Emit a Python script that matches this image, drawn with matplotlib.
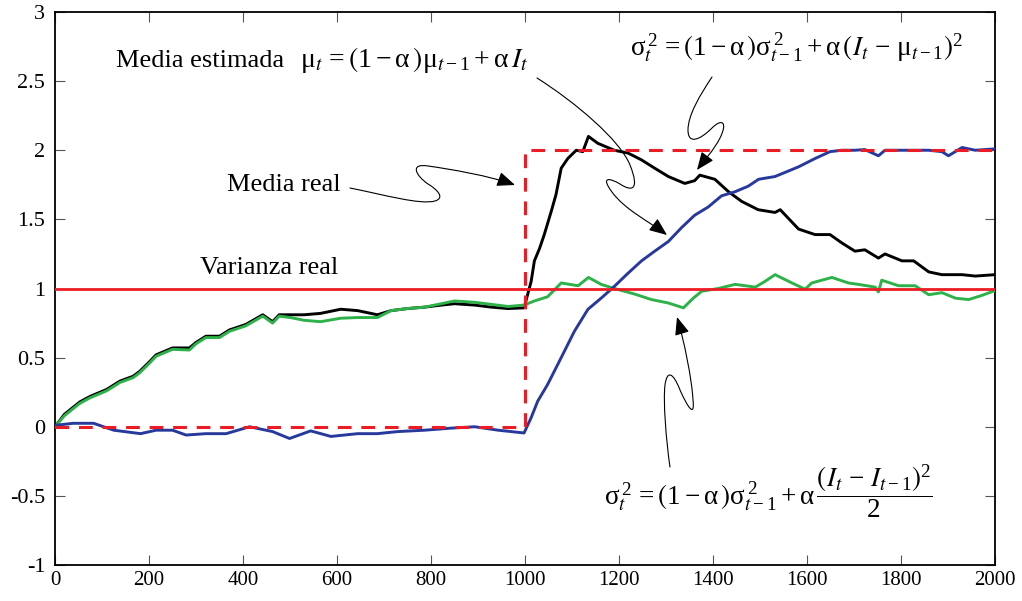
import matplotlib
matplotlib.use("Agg")
import matplotlib.pyplot as plt
from matplotlib.path import Path
from matplotlib.patches import FancyArrowPatch

# ---------------- data ----------------
x_ticks = [0, 200, 400, 600, 800, 1000, 1200, 1400, 1600, 1800, 2000]
x_tick_labels = ["0", "200", "400", "600", "800", "1000", "1200", "1400", "1600", "1800", "2000"]
y_ticks = [-1, -0.5, 0, 0.5, 1, 1.5, 2, 2.5, 3]
y_tick_labels = ["-1", "-0.5", "0", "0.5", "1", "1.5", "2", "2.5", "3"]

# real mean (step) and real variance
real_mean_x = [0, 1000, 1000, 2000]
real_mean_y = [0, 0, 2, 2]
real_var_x = [0, 2000]
real_var_y = [1, 1]

# estimated mean (black)
mean_x = [0, 20, 53, 75, 110, 138, 166, 180, 201, 215, 250, 286, 300, 321, 350, 371,
          406, 442, 463, 477, 501, 530, 565, 608, 644, 686, 715, 750, 786, 822, 850,
          893, 929, 964, 998, 1013, 1020, 1031, 1041, 1056, 1066, 1077, 1091, 1109,
          1123, 1135, 1155, 1190, 1219, 1248, 1276, 1305, 1340, 1361, 1372, 1404, 1433,
          1461, 1496, 1532, 1543, 1582, 1617, 1649, 1674, 1702, 1723, 1752, 1766, 1802,
          1827, 1859, 1887, 1930, 1958, 2000]
mean_y = [0.00, 0.09, 0.18, 0.22, 0.27, 0.33, 0.365, 0.40, 0.47, 0.52, 0.57, 0.57, 0.61,
          0.655, 0.655, 0.70, 0.74, 0.81, 0.76, 0.81, 0.81, 0.81, 0.82, 0.85, 0.84, 0.81,
          0.84, 0.855, 0.865, 0.88, 0.89, 0.88, 0.865, 0.855, 0.86, 1.05, 1.20, 1.29,
          1.39, 1.56, 1.68, 1.87, 1.94, 2.00, 1.99, 2.10, 2.05, 2.00, 1.98, 1.93, 1.87,
          1.81, 1.76, 1.78, 1.82, 1.79, 1.70, 1.63, 1.57, 1.55, 1.57, 1.43, 1.39, 1.39,
          1.33, 1.27, 1.28, 1.22, 1.25, 1.20, 1.20, 1.12, 1.10, 1.10, 1.09, 1.10]

# variance estimate from successive differences (green)
var_diff_x = [0, 20, 53, 75, 110, 138, 166, 180, 201, 215, 250, 286, 300, 321, 350, 371,
              406, 442, 463, 477, 501, 530, 565, 608, 644, 686, 715, 750, 786, 822, 850,
              893, 929, 964, 998, 1020, 1048, 1077, 1113, 1135, 1162, 1190, 1233, 1269,
              1305, 1337, 1358, 1376, 1411, 1447, 1490, 1510, 1532, 1568, 1596, 1610,
              1653, 1688, 1709, 1745, 1752, 1759, 1795, 1830, 1859, 1887, 1916, 1944,
              1972, 2000]
var_diff_y = [0.00, 0.08, 0.17, 0.21, 0.26, 0.32, 0.355, 0.39, 0.46, 0.51, 0.56, 0.555,
              0.60, 0.645, 0.645, 0.69, 0.73, 0.80, 0.75, 0.80, 0.79, 0.77, 0.76, 0.785,
              0.79, 0.79, 0.84, 0.855, 0.865, 0.89, 0.91, 0.90, 0.885, 0.87, 0.88, 0.91,
              0.94, 1.04, 1.02, 1.08, 1.03, 1.00, 0.96, 0.92, 0.895, 0.86, 0.93, 0.98,
              1.00, 1.03, 1.01, 1.05, 1.10, 1.04, 0.995, 1.04, 1.08, 1.04, 1.03, 1.01,
              0.975, 1.06, 1.02, 1.02, 0.955, 0.97, 0.93, 0.92, 0.95, 0.985]

# variance estimate around the running mean (blue)
var_mean_x = [0, 39, 82, 125, 182, 215, 250, 279, 321, 364, 414, 463, 499, 544, 587, 644,
              686, 729, 786, 843, 893, 943, 998, 1013, 1027, 1048, 1077, 1105, 1134, 1162,
              1190, 1219, 1248, 1276, 1305, 1333, 1361, 1390, 1418, 1447, 1475, 1497,
              1532, 1582, 1617, 1649, 1674, 1702, 1723, 1752, 1766, 1802, 1859, 1887,
              1901, 1930, 1958, 2000]
var_mean_y = [0.01, 0.025, 0.025, -0.025, -0.05, -0.025, -0.025, -0.06, -0.05, -0.05,
              0.0, -0.035, -0.085, -0.03, -0.07, -0.05, -0.05, -0.035, -0.025, -0.01,
              0.0, -0.025, -0.045, 0.065, 0.185, 0.305, 0.50, 0.69, 0.85, 0.93, 1.015,
              1.11, 1.20, 1.27, 1.34, 1.44, 1.53, 1.59, 1.67, 1.70, 1.74, 1.79, 1.81,
              1.88, 1.94, 1.99, 2.00, 2.00, 2.005, 1.96, 2.00, 2.00, 2.00, 1.99, 1.96,
              2.02, 2.00, 2.01]

label_mean_est = "Media estimada"
label_mean_real = "Media real"
label_var_real = "Varianza real"
eq_mean = r"$\mu_{\mathit{t}}\,=\left(1-\alpha\,\right)\mu_{\mathit{t}-1}+\alpha\,\mathit{I}_{\mathit{t}}$"
eq_var_mean = (r"$\sigma^{\,2}_{\mathit{t}}\,=\left(1-\alpha\,\right)\sigma^{\,2}_{\mathit{t}-1}"
               r"+\alpha\,\left(\mathit{I}_{\mathit{t}}\,-\,\mu_{\mathit{t}-1}\right)^{2}$")
eq_var_diff = (r"$\sigma^{\,2}_{\mathit{t}}\,=\left(1-\alpha\,\right)\sigma^{\,2}_{\mathit{t}-1}"
               r"+\alpha\,\dfrac{\left(\mathit{I}_{\mathit{t}}\,-\,\mathit{I}_{\mathit{t}-1}\right)^{2}}{2}$")

# ---------------- style ----------------
plt.rcParams["font.family"] = ["Liberation Serif", "DejaVu Serif"]
plt.rcParams["mathtext.fontset"] = "stix"
plt.rcParams["mathtext.default"] = "regular"
plt.rcParams["axes.unicode_minus"] = False

RED = "#EC1C24"
GREEN = "#2DB24A"
BLUE = "#27399C"
W, H = 1022, 601

fig = plt.figure(figsize=(W / 100, H / 100), dpi=100)
ax = fig.add_axes([55 / W, 36 / H, 940 / W, 553 / H])


def fx(px):
    return px / W


def fy(py):
    return 1 - py / H


ax.plot(mean_x, mean_y, color="black", lw=2.1, zorder=3)
ax.plot(var_diff_x, var_diff_y, color=GREEN, lw=2.1, zorder=4)
ax.plot(var_mean_x, var_mean_y, color=BLUE, lw=2.1, zorder=4)
ax.plot(real_var_x, real_var_y, color=RED, lw=2.0, zorder=5)
ax.plot(real_mean_x, real_mean_y, color=RED, lw=2.2, dashes=(4.5, 3.2), zorder=5)

ax.set_xlim(0, 2000)
ax.set_ylim(-1, 3)
ax.set_xticks(x_ticks)
ax.set_xticklabels(x_tick_labels)
ax.set_yticks(y_ticks)
ax.set_yticklabels(y_tick_labels)
ax.tick_params(axis="both", direction="in", top=True, right=True, length=7,
               width=0.8, color="#555555")
ax.tick_params(axis="x", labelsize=15, pad=4)
ax.tick_params(axis="y", labelsize=16, pad=7)
for s in ax.spines.values():
    s.set_linewidth(1.3)

# ---------------- texts ----------------
fig.text(fx(116), fy(67), label_mean_est, fontsize=19, va="baseline", ha="left")
fig.text(fx(300), fy(67), eq_mean, fontsize=20, va="baseline", ha="left")
fig.text(fx(630), fy(56), eq_var_mean, fontsize=19.5, va="baseline", ha="left")
fig.text(fx(604), fy(491), eq_var_diff, fontsize=19.5, va="center", ha="left")
fig.text(fx(227), fy(185), label_mean_real, fontsize=19, va="center", ha="left")
fig.text(fx(200), fy(268), label_var_real, fontsize=19, va="center", ha="left")

# ---------------- squiggly arrows (reference pixel coordinates) ----------------
arrow_paths = [
    # Media estimada
    [(537, 78), (575, 102), (620, 140), (630, 165),
     (640, 190), (632, 192), (620, 184),
     (610, 178), (600, 176), (612, 192),
     (625, 210), (650, 222), (667, 235)],
    # sigma^2 (upper formula)
    [(712, 77), (700, 95), (688, 115), (688, 130),
     (688, 145), (700, 140), (712, 128),
     (722, 118), (728, 122), (720, 138),
     (714, 150), (703, 162), (697, 170)],
    # Media real
    [(350, 188), (385, 195), (420, 205), (435, 201),
     (445, 198), (438, 190), (428, 184),
     (415, 175), (410, 163), (428, 166),
     (450, 169), (490, 176), (515, 185)],
    # sigma^2 (lower formula)
    [(670, 467), (666, 440), (663, 400), (665, 385),
     (667, 370), (673, 372), (680, 390),
     (688, 408), (695, 418), (693, 400),
     (692, 380), (684, 340), (677, 317)],
]
for pts in arrow_paths:
    verts = [(fx(px), fy(py)) for px, py in pts]
    codes = [Path.MOVETO] + [Path.CURVE4] * (len(verts) - 1)
    arr = FancyArrowPatch(path=Path(verts, codes), transform=fig.transFigure,
                          arrowstyle="-|>,head_length=1.1,head_width=0.45",
                          mutation_scale=10, lw=0.8, color="black")
    fig.add_artist(arr)

fig.savefig("out.png", dpi=100)
